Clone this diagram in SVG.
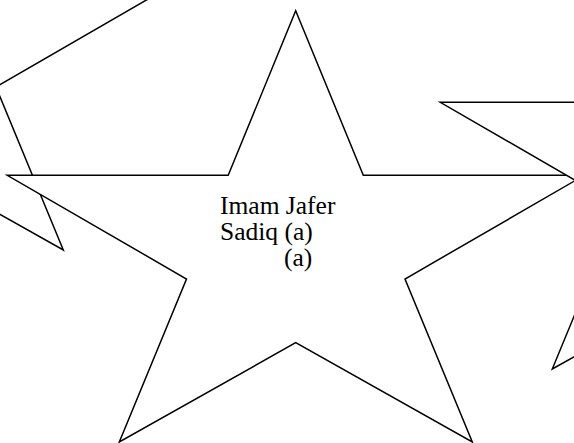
<svg xmlns="http://www.w3.org/2000/svg" width="574" height="443" viewBox="0 0 574 443">
  <style>
    .star { fill: #ffffff; stroke: #000000; stroke-width: 1.5; stroke-linejoin: miter; }
    .lbl { font-family: "Liberation Serif", "Times New Roman", serif; font-size: 25.5px; fill: #000000; }
  </style>
  <defs>
    <polygon id="starShape" points="295.7,10.7 363.3,175.3 584.3,175.3 405,279 472.3,442 295.7,342.7 119.3,442 186.5,279 7.3,175.3 228.2,175.3"/>
  </defs>
  <rect x="0" y="0" width="574" height="443" fill="#ffffff"/>
  <g id="star-left">
    <use href="#starShape" class="star" transform="translate(-409,-192)"/>
  </g>
  <g id="star-main">
    <use href="#starShape" class="star"/>
    <text class="lbl" x="220" y="214">Imam Jafer</text>
    <text class="lbl" x="220" y="240">Sadiq (a)</text>
    <text class="lbl" x="284" y="266">(a)</text>
  </g>
  <g id="star-right">
    <use href="#starShape" class="star" transform="translate(433,-73)"/>
  </g>
  <g id="connectors"></g>
</svg>
